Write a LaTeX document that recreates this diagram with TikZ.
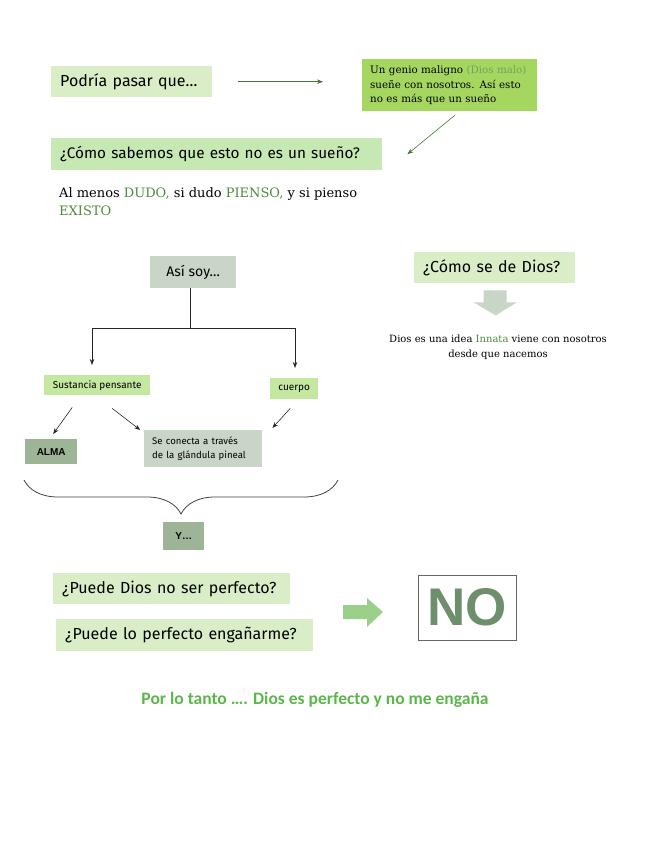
\documentclass[tikz,border=0pt]{standalone}
\usepackage{fontspec}
\setmainfont{DejaVu Serif}
\newfontfamily\handfont{Fira Sans}
\newfontfamily\boldsans{Liberation Sans}
\newfontfamily\calibfont{Carlito}
\usetikzlibrary{positioning,arrows.meta,decorations.pathreplacing}

\definecolor{hdrA}{HTML}{D9EEC6}
\definecolor{hdrB}{HTML}{C6E8B3}
\definecolor{lime}{HTML}{A5D65F}
\definecolor{limesoft}{HTML}{C4E89F}
\definecolor{sage}{HTML}{C9D5C6}
\definecolor{sagedark}{HTML}{9DB596}
\definecolor{leaf}{HTML}{4F8A3C}
\definecolor{mint}{HTML}{9BD08A}
\definecolor{nogreen}{HTML}{6E8F6C}
\definecolor{bright}{HTML}{5BB64A}

\begin{document}
\begin{tikzpicture}[
    x=1pt, y=-1pt,
    >={Stealth[length=6pt,width=4.5pt]},
    every box/.style={anchor=north west, inner ysep=0pt},
    hdr/.style={every box, fill=hdrA, inner xsep=9pt, align=left, minimum height=31pt,
                font=\handfont\fontsize{16}{18}\selectfont},
    small hdr/.style={every box, fill=limesoft, inner xsep=0pt, align=center,
                font=\handfont\fontsize{10}{12}\selectfont},
    sage box/.style={every box, fill=sage, inner xsep=0pt, align=center},
    dark box/.style={every box, fill=sagedark, inner xsep=0pt, align=center,
                font=\boldsans\bfseries\fontsize{10}{12}\selectfont},
    green arrow/.style={->, draw=leaf!85!black, semithick},
    tree arrow/.style={->, draw=black!85, semithick}
]
    \useasboundingbox (0,0) rectangle (655,848);

    % first question
    \node[hdr, text width=143pt] (pasar) at (51,66) {Podría pasar que…};
    \node[every box, fill=lime, inner xsep=8pt, text width=159pt, minimum height=52pt, align=left,
          font=\fontsize{10.3}{14.5}\selectfont] (genio) at (362,59)
          {Un genio maligno {\color{leaf!80}(Dios malo)}\\sueñe con nosotros. Así esto\\no es más que un sueño};
    \node[hdr, fill=hdrB, text width=313pt, minimum height=32pt, font=\handfont\fontsize{15.3}{18}\selectfont]
          (sabemos) at (51,138) {¿Cómo sabemos que esto no es un sueño?};
    \node[every box, align=left, inner sep=0pt, font=\fontsize{13}{18}\selectfont] (existo) at (59,187)
          {Al menos {\color{leaf}DUDO,} si dudo {\color{leaf}PIENSO,} y si pienso\\{\color{leaf}EXISTO}};

    \draw[green arrow, shorten <=26pt, shorten >=39pt] (pasar.east) -- (pasar.east -| genio.west);
    \draw[green arrow] ([xshift=5pt,yshift=-4pt]genio.south) -- ([xshift=25pt]sabemos.east);

    % tree
    \node[sage box, minimum width=86pt, minimum height=32pt,
          font=\handfont\fontsize{14}{16}\selectfont] (soy) at (150,256) {Así soy…};
    \node[small hdr, minimum width=106pt, minimum height=20pt] (sust) at (44,375) {Sustancia pensante};
    \node[small hdr, minimum width=48pt, minimum height=21pt] (cuerpo) at (270,378) {cuerpo};
    \node[dark box, minimum width=52pt, minimum height=25pt] (alma) at (25,439) {ALMA};
    \node[sage box, align=left, inner xsep=8pt, text width=102pt, minimum height=37pt,
          font=\handfont\fontsize{9.6}{14}\selectfont] (pineal) at (144,430)
          {Se conecta a través\\de la glándula pineal};
    \node[dark box, minimum width=41pt, minimum height=28pt] (yy) at (163,522) {Y…};

    \coordinate (split) at (190,328);
    \coordinate (lft) at (92,328);
    \coordinate (rgt) at (295,328);
    \draw[black!85, semithick] (split |- soy.south) -- (split);
    \draw[black!85, semithick] (lft) -- (rgt);
    \draw[tree arrow, shorten >=10pt] (lft) -- (lft |- sust.north);
    \draw[tree arrow, shorten >=10pt] (rgt) -- (rgt |- cuerpo.north);
    \draw[tree arrow] ([xshift=-25pt,yshift=-12pt]sust.south) -- ([xshift=2pt,yshift=5pt]alma.north);
    \draw[tree arrow] ([xshift=15pt,yshift=-13pt]sust.south) -- ([xshift=-63pt]pineal.north);
    \draw[tree arrow] ([xshift=-4pt,yshift=-9pt]cuerpo.south) -- ([xshift=10pt,yshift=2pt]pineal.north east);

    \coordinate (braceR) at (338,480);
    \coordinate (braceL) at (24,480);
    \draw[black!75, thick, decorate, decoration={brace, amplitude=34pt}] (braceR) -- (braceL);

    % God
    \node[hdr, text width=143pt] (dios) at (414,252) {¿Cómo se de Dios?};
    \fill[sage] ([xshift=-11pt,yshift=-7pt]dios.south) -- ([xshift=12pt,yshift=-7pt]dios.south)
        -- ([xshift=12pt,yshift=-19pt]dios.south) -- ([xshift=22pt,yshift=-19pt]dios.south)
        -- ([xshift=1pt,yshift=-32pt]dios.south) -- ([xshift=-21pt,yshift=-19pt]dios.south)
        -- ([xshift=-11pt,yshift=-19pt]dios.south) -- cycle;
    \node[align=center, inner sep=0pt, font=\fontsize{10}{15}\selectfont] (innata) at (498,347)
          {Dios es una idea {\color{leaf}Innata} viene con nosotros\\desde que nacemos};

    % perfection
    \node[hdr, text width=219pt] (perf1) at (53,573) {¿Puede Dios no ser perfecto?};
    \node[hdr, text width=239pt, minimum height=32pt] (perf2) at (56,619) {¿Puede lo perfecto engañarme?};
    \node[every box, draw=black!60, fill=white, minimum width=98pt, minimum height=65pt, inner sep=0pt,
          text=nogreen, font=\boldsans\bfseries\fontsize{53}{53}\selectfont] (no) at (418,575) {NO};
    \fill[mint] (343,605) -- (367,605) -- (367,598) -- (383,612) -- (367,627) -- (367,619) -- (343,619) -- cycle;

    \node[text=bright, font=\calibfont\bfseries\fontsize{17.5}{20}\selectfont] (concl) at (315,700)
          {Por lo tanto …. Dios es perfecto y no me engaña};
\end{tikzpicture}
\end{document}
